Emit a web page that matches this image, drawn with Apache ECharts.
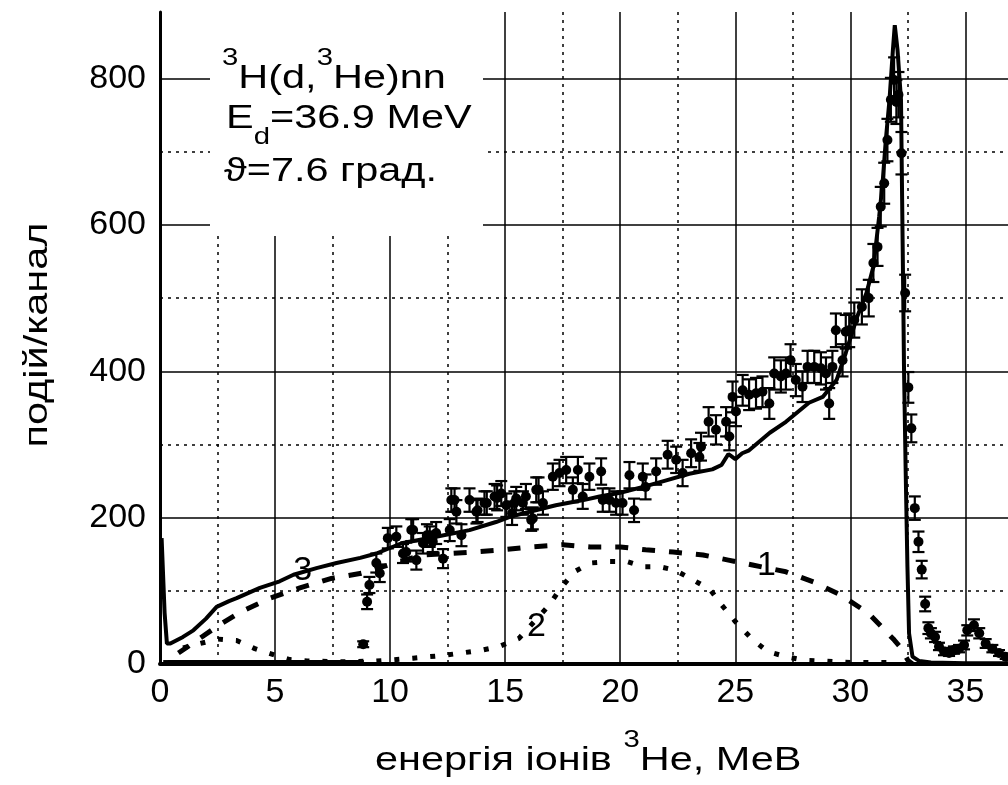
<!DOCTYPE html>
<html><head><meta charset="utf-8">
<script src="https://cdn.jsdelivr.net/npm/echarts@6/dist/echarts.min.js"></script>
<style>html,body{margin:0;padding:0;background:#fff}#c{width:1008px;height:785px}</style>
</head><body><div id="c"></div>
<script>
// ---------- data ----------
const expX = [
 8.83, 9.0, 9.1, 9.4, 9.55, 9.9, 10.27, 10.56, 10.7, 10.92,
 11.14, 11.43, 11.6, 11.72, 12.0, 12.3, 12.59, 12.8, 12.88, 13.1,
 13.45, 13.75, 14.1, 14.54, 14.83, 15.05, 15.3, 15.48, 15.77, 16.13,
 16.35, 16.64, 17.07, 17.36, 17.65, 17.94, 18.16, 18.37, 18.66, 19.17,
 19.24, 19.53, 19.82, 20.1, 20.4, 20.6, 20.98, 21.1, 21.56, 22.06,
 22.43, 22.71, 23.08, 23.44, 23.51, 23.84, 24.16, 24.6, 24.74, 24.88,
 25.03, 25.32, 25.6, 25.9, 26.18, 26.48, 26.69, 26.98, 27.2, 27.4,
 27.63, 27.92, 28.14, 28.43, 28.72, 28.94, 29.08, 29.22, 29.37, 29.66,
 29.8, 29.95, 30.17, 30.5, 30.8, 31.0, 31.18, 31.32, 31.47, 31.61,
 31.76, 31.9, 32.0, 32.09, 32.22, 32.38, 32.52, 32.65, 32.8, 32.96,
 33.1, 33.25, 33.39, 33.5, 33.68, 33.85, 34.07, 34.29, 34.5, 34.72,
 34.94, 35.08, 35.37, 35.6, 35.88, 36.17, 36.46, 36.75,
 11.0, 11.85, 12.66, 13.8, 14.2, 14.65, 15.4, 15.9, 16.2, 16.45];
const expY = [
 27, 85, 108, 138, 124, 172, 174, 151, 153, 183,
 142, 165, 176, 174, 179, 144, 183, 224, 208, 176,
 224, 208, 220, 229, 233, 217, 206, 226, 220, 197,
 238, 220, 256, 261, 265, 238, 265, 229, 256, 263,
 224, 224, 220, 220, 258, 210, 256, 242, 263, 286,
 279, 261, 288, 283, 297, 331, 320, 331, 311, 365,
 345, 374, 368, 370, 372, 356, 397, 393, 397, 415,
 388, 379, 406, 406, 404, 397, 356, 406, 456, 415,
 454, 456, 470, 488, 500, 548, 570, 625, 657, 716,
 771, 798, 768, 778, 698, 507, 378, 322, 213, 167,
 129, 82, 49, 42, 37, 24, 17, 15, 19, 21,
 26, 46, 53, 42, 28, 21, 15, 10,
 183, 167, 224, 210, 220, 227, 220, 229, 199, 238];
const expErr = [
 4, 10, 11, 13, 12, 14, 14, 13, 13, 15,
 13, 14, 15, 14, 15, 13, 15, 16, 16, 15,
 16, 16, 16, 17, 17, 16, 16, 16, 16, 15,
 17, 16, 18, 18, 18, 17, 18, 17, 18, 18,
 16, 16, 16, 16, 18, 16, 18, 17, 18, 19,
 18, 18, 19, 19, 19, 20, 20, 20, 19, 21,
 20, 21, 21, 21, 21, 21, 22, 22, 22, 22,
 22, 21, 22, 22, 22, 22, 21, 22, 23, 22,
 23, 23, 24, 24, 25, 26, 26, 27, 28, 29,
 30, 31, 30, 31, 29, 25, 21, 19, 16, 14,
 12, 10, 8, 7, 7, 5, 5, 4, 5, 5,
 6, 7, 8, 7, 6, 5, 4, 3,
 15, 14, 16, 16, 16, 17, 16, 17, 15, 17];
// near-zero experimental channels at low energy
const lowX = [0.4,0.6,0.8,1.0,1.2,1.4,1.6,1.8,2.0,2.2,2.4,2.6,2.8,3.0,3.2,3.4,3.6,3.8,4.0,4.2,4.4,
              4.6,4.8,5.0,5.2,5.4,5.6,5.8,6.0,6.2,6.4,6.6,6.8,7.0,7.2,7.4,7.6,7.8,8.0,8.2,8.4,8.6];
const lowY = [2,2,2,2,2,2,2,2,2,2,2,2,2,2,2,2,2,2,2,2,2,
              2,2,2,2,2,2,2,2,2,2,2,2,2,2,2,2,2,2,2,2,2];
// curve 3 (total, solid)
const c3X = [0.07,0.2,0.3,0.45,1.0,1.45,2.0,2.46,3.0,3.33,4.34,5.2,5.8,6.8,7.67,8.7,9.4,10.5,12.0,13.45,
             14.6,15.2,16.06,17.2,18.4,19.1,20.0,21.0,22.0,23.0,24.0,24.4,24.7,25.0,25.3,25.6,26.5,27.2,28.2,28.8,
             29.4,29.8,30.3,30.7,31.0,31.1,31.25,31.4,31.54,31.7,31.85,31.93,32.05,32.2,32.25,32.3,32.33,32.4,32.48,32.55,
             32.7,33.0,33.5,35.0,36.85];
const c3Y = [172,70,28,28,37,46,62,78,86,90,104,113,122,131,138,145,151,165,174,183,
             194,201,208,217,224,229,234,242,251,260,266,272,287,280,288,292,316,331,357,365,
             388,425,475,507,543,570,611,657,716,771,840,873,839,771,634,497,406,270,133,42,
             10,4,2,1,1];
// curve 1 (dashed)
const c1X = [0.8,1.5,2.46,3.5,4.77,6.08,7.45,8.75,10.3,11.4,13.6,14.9,16.1,17.5,18.7,20.0,21.1,22.3,23.6,24.7,
             25.8,27.2,28.4,29.6,30.8,31.9,32.2,32.5,32.7];
const c1Y = [15,30,51,71,90,104,117,124,139,149,153,156,160,163,160,160,156,153,149,142,
             135,126,112,94,69,33,22,5,0];
// curve 2 (dotted)
const c2X = [1.0,1.74,2.53,3.33,4.12,5.0,5.64,6.4,8.0,9.4,11.0,12.4,14.0,14.75,15.6,16.9,17.4,18.0,18.7,19.5,
             20.3,21.0,21.7,22.4,23.1,23.9,24.4,25.0,25.7,26.4,27.2,28.0,28.8,30.0,32.0];
const c2Y = [22,28,34,32,21,12,6,4,3,4,8,12,19,24,35,80,103,126,138,140,
             140,133,133,128,116,102,81,58,35,17,10,5,4,2,2];
// curve number labels
const labText = ['3','2','1'];
const labX = [6.2, 16.36, 26.35];
const labY = [128, 51, 134];
// axes
const xMin = 0, xMax = 36.85, xStep = 5;
const yMin = 0, yMax = 891, yStep = 200;

// ---------- chart ----------
const FONT = '"Liberation Sans", Arial, "DejaVu Sans", sans-serif';
const STRETCH = 1.22;
const zip = (a, b) => a.map((v, i) => [v, b[i]]);
const chart = echarts.init(document.getElementById('c'), null, {renderer: 'canvas'});

const mctx = document.createElement('canvas').getContext('2d');
function textW(t, size) { mctx.font = size + 'px ' + FONT; return mctx.measureText(t).width; }
// lay out a run of text pieces (for super/subscripts)
function run(pieces, x0, yc) {
  const els = []; let x = x0;
  pieces.forEach(p => {
    els.push({type: 'text', x: x, y: yc + (p.dy || 0), z: 10, scaleX: STRETCH,
      style: {text: p.t, fontSize: p.s, fontFamily: FONT, fill: '#000', textVerticalAlign: 'middle', textAlign: 'left'}});
    x += textW(p.t, p.s) * STRETCH;
  });
  return els;
}

const BIG = 34, SMALL = 24;
const graphics = [
  {type: 'rect', shape: {x: 210, y: 0, width: 273, height: 236}, style: {fill: '#fff'}, z: 1},
  ...run([{t: '3', s: SMALL, dy: -21}, {t: 'H(d,', s: BIG}, {t: '3', s: SMALL, dy: -21}, {t: 'He)nn', s: BIG}], 222, 79),
  ...run([{t: 'E', s: BIG}, {t: 'd', s: SMALL, dy: 18}, {t: '=36.9 MeV', s: BIG}], 226, 119),
  ...run([{t: 'ϑ=7.6 град.', s: BIG}], 224, 172),
  ...run([{t: 'енергія іонів ', s: BIG}, {t: '3', s: SMALL, dy: -21}, {t: 'He, МеВ', s: BIG}], 375, 761),
  {type: 'text', x: 38, y: 335, rotation: Math.PI / 2, z: 10, scaleX: STRETCH,
   style: {text: 'подій/канал', fontSize: BIG, fontFamily: FONT, fill: '#000', textAlign: 'center', textVerticalAlign: 'middle'}}
];

const gridColX = ['#000','#000','#000','#000','#000','#000','#000','#000','rgba(0,0,0,0)'];
const gridColY = ['#000','#000','#000','#000','#000','rgba(0,0,0,0)'];

chart.setOption({
  animation: false,
  backgroundColor: '#fff',
  grid: {left: 160, right: 0, top: 12, bottom: 121, containLabel: false},
  xAxis: {
    type: 'value', min: xMin, max: xMax, interval: xStep,
    axisLine: {show: true, onZero: false, lineStyle: {color: '#000', width: 4}},
    axisTick: {show: false},
    axisLabel: {color: '#000', fontSize: BIG, fontFamily: FONT, margin: 12, showMaxLabel: false,
      formatter: v => (Math.abs(v / xStep - Math.round(v / xStep)) < 1e-6 ? String(v) : '')},
    splitLine: {show: true, lineStyle: {color: gridColX, width: 1.5}},
    minorTick: {show: false, splitNumber: 2},
    minorSplitLine: {show: true, lineStyle: {color: '#000', width: 1.5, type: [3, 5]}}
  },
  yAxis: {
    type: 'value', min: yMin, max: yMax, interval: yStep,
    axisLine: {show: true, onZero: false, lineStyle: {color: '#000', width: 3}},
    axisTick: {show: false},
    axisLabel: {color: '#000', fontSize: BIG, fontFamily: FONT, margin: 14, showMaxLabel: false,
      formatter: v => (Math.abs(v / yStep - Math.round(v / yStep)) < 1e-6 ? String(v) : '')},
    splitLine: {show: true, lineStyle: {color: gridColY, width: 1.5}},
    minorTick: {show: false, splitNumber: 2},
    minorSplitLine: {show: true, lineStyle: {color: '#000', width: 1.5, type: [3, 5]}}
  },
  graphic: graphics,
  series: [
    {type: 'line', name: '1', data: zip(c1X, c1Y), symbol: 'none', z: 3,
     lineStyle: {color: '#000', width: 5, type: [13, 14]}},
    {type: 'line', name: '2', data: zip(c2X, c2Y), symbol: 'none', z: 3,
     lineStyle: {color: '#000', width: 5, type: [5, 13]}},
    {type: 'line', name: '3', data: zip(c3X, c3Y), symbol: 'none', z: 4,
     lineStyle: {color: '#000', width: 4}},
    {type: 'custom', name: 'err', z: 5, silent: true,
     data: expX.map((x, i) => [x, expY[i] - expErr[i], expY[i] + expErr[i]]),
     encode: {x: 0, y: [1, 2]},
     renderItem: (params, api) => {
       const x = api.value(0);
       const lo = api.coord([x, api.value(1)]);
       const hi = api.coord([x, api.value(2)]);
       const w = 6, st = {stroke: '#000', lineWidth: 2.2};
       return {type: 'group', children: [
         {type: 'line', shape: {x1: lo[0], y1: lo[1], x2: hi[0], y2: hi[1]}, style: st},
         {type: 'line', shape: {x1: lo[0] - w, y1: lo[1], x2: lo[0] + w, y2: lo[1]}, style: st},
         {type: 'line', shape: {x1: hi[0] - w, y1: hi[1], x2: hi[0] + w, y2: hi[1]}, style: st}
       ]};
     }},
    {type: 'scatter', name: 'exp', data: zip(expX, expY), symbol: 'circle', symbolSize: 10, z: 6,
     itemStyle: {color: '#000', opacity: 1}},
    {type: 'scatter', name: 'low', data: zip(lowX, lowY), symbol: 'rect', symbolSize: [12, 5], z: 6,
     itemStyle: {color: '#000', opacity: 1}},
    {type: 'scatter', name: 'labels', data: labX.map((x, i) => [x, labY[i], labText[i]]), symbolSize: 0, z: 7,
     itemStyle: {opacity: 1},
     label: {show: true, position: 'inside', formatter: p => p.value[2], color: '#000', fontSize: 34, fontFamily: FONT}}
  ]
});
</script></body></html>
